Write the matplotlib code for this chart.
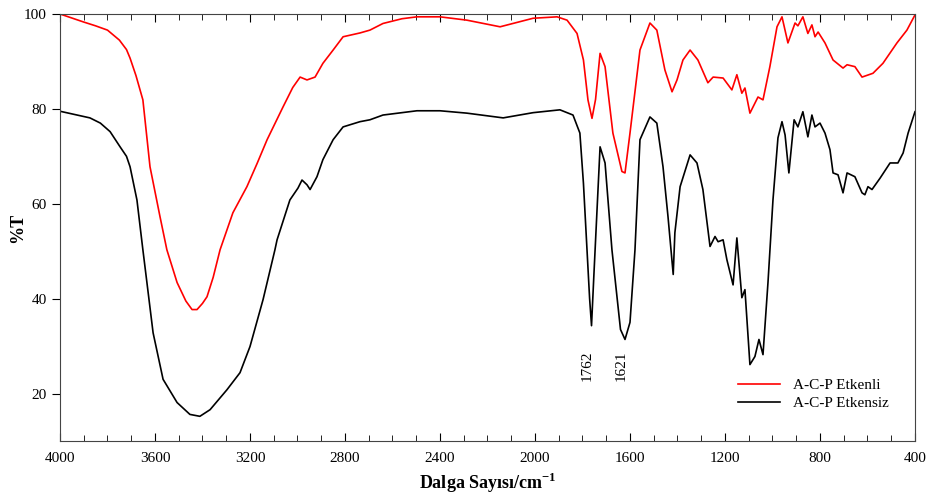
import matplotlib.pyplot as plt
import numpy as np

# wavenumber (cm-1) and %T
wn_red = [4000, 3900, 3850, 3800, 3750, 3720, 3705, 3680, 3651, 3621, 3579, 3550, 3507,
          3470, 3444, 3423, 3400, 3381, 3355, 3326, 3272, 3213, 3170, 3128, 3061, 3020,
          2989, 2960, 2926, 2893, 2850, 2808, 2737, 2695, 2640, 2560, 2497, 2400, 2287,
          2147, 2008, 1907, 1865, 1823, 1796, 1777, 1760, 1745, 1726, 1705, 1672, 1634,
          1621, 1600, 1558, 1516, 1487, 1453, 1423, 1402, 1377, 1347, 1314, 1272, 1250,
          1208, 1171, 1150, 1129, 1116, 1095, 1061, 1040, 1011, 981, 960, 935, 905, 893,
          872, 851, 834, 821, 808, 779, 745, 703, 686, 653, 623, 577, 535, 476, 434, 400]
t_red = [100, 98.3, 97.5, 96.6, 94.5, 92.5, 90.7, 87.0, 81.9, 67.8, 57.3, 50.3, 43.4,
         39.5, 37.7, 37.7, 39.0, 40.4, 44.5, 50.3, 58.1, 63.6, 68.5, 73.5, 80.4, 84.5,
         86.7, 86.1, 86.7, 89.6, 92.4, 95.2, 96.0, 96.6, 98.0, 99.0, 99.4, 99.4, 98.7,
         97.3, 99.1, 99.4, 98.7, 95.9, 90.3, 81.9, 78.0, 82.0, 91.7, 88.9, 74.9, 66.8,
         66.5, 74.9, 92.4, 98.1, 96.6, 88.2, 83.6, 86.1, 90.3, 92.4, 90.3, 85.5, 86.7,
         86.5, 84.0, 87.2, 83.3, 84.4, 79.1, 82.5, 81.9, 88.9, 97.3, 99.4, 93.9, 98.1,
         97.5, 99.4, 95.9, 97.7, 95.2, 96.2, 93.9, 90.3, 88.6, 89.3, 88.9, 86.7, 87.5,
         89.6, 93.9, 96.6, 99.8]

wn_blk = [4000, 3874, 3830, 3789, 3747, 3720, 3705, 3676, 3651, 3634, 3608, 3566, 3507,
          3453, 3411, 3368, 3297, 3242, 3200, 3145, 3095, 3086, 3032, 2998, 2981, 2960,
          2947, 2918, 2893, 2850, 2808, 2737, 2695, 2640, 2497, 2400, 2287, 2134, 2008,
          1895, 1840, 1811, 1796, 1781, 1770, 1762, 1752, 1726, 1705, 1676, 1640, 1621,
          1600, 1579, 1558, 1516, 1487, 1461, 1440, 1418, 1411, 1389, 1347, 1318, 1293,
          1263, 1242, 1229, 1208, 1192, 1166, 1150, 1129, 1116, 1095, 1074, 1057, 1040,
          1019, 998, 977, 960, 947, 931, 909, 893, 872, 851, 834, 821, 800, 779, 758,
          745, 724, 703, 686, 653, 623, 611, 598, 581, 547, 505, 472, 450, 429, 400]
t_blk = [79.5, 78.1, 77.0, 75.2, 72.0, 70.0, 67.8, 60.8, 50.3, 43.4, 32.8, 23.0, 18.1,
         15.6, 15.2, 16.6, 20.8, 24.4, 29.9, 39.8, 50.3, 52.4, 60.8, 63.3, 65.0, 64.0,
         63.0, 65.7, 69.3, 73.5, 76.2, 77.3, 77.7, 78.7, 79.6, 79.6, 79.1, 78.1, 79.2,
         79.8, 78.7, 74.9, 64.3, 50.3, 40.0, 34.3, 45.0, 72.0, 68.6, 50.3, 33.5, 31.4,
         35.0, 50.3, 73.5, 78.3, 77.0, 67.8, 57.3, 45.1, 53.9, 63.6, 70.3, 68.6, 63.0,
         51.0, 53.1, 52.0, 52.4, 48.2, 42.9, 52.8, 40.2, 41.9, 26.1, 27.8, 31.4, 28.2,
         43.4, 60.8, 73.9, 77.3, 74.5, 66.5, 77.7, 76.2, 79.4, 74.1, 78.7, 76.2, 77.0,
         74.9, 71.4, 66.5, 66.1, 62.3, 66.5, 65.7, 62.3, 61.9, 63.6, 63.0, 65.4, 68.6,
         68.6, 70.7, 74.9, 79.4]

peak_pos = [1762, 1621]
peak_text = ['1762', '1621']

plt.rcParams['font.family'] = ['Liberation Serif', 'DejaVu Serif']
plt.rcParams['mathtext.fontset'] = 'custom'
plt.rcParams['mathtext.rm'] = 'Liberation Serif'
plt.rcParams['mathtext.bf'] = 'Liberation Serif:bold'

fig = plt.figure(figsize=(9.33, 5.03), dpi=100)
ax = fig.add_axes([0.0643, 0.1233, 0.9164, 0.8489])

ax.plot(wn_red, t_red, color='red', lw=1.2, label='A-C-P Etkenli')
ax.plot(wn_blk, t_blk, color='black', lw=1.2, label='A-C-P Etkensiz')

# peak labels
for p, s in zip(peak_pos, peak_text):
    ax.text(p + 18, 25.8, s, rotation=90, ha='center', va='center', fontsize=11)

ax.set_xlim(4000, 400)
ax.set_ylim(10, 100)
ax.set_xticks(np.arange(4000, 399, -400))
ax.set_xticks(np.arange(4000, 399, -100), minor=True)
ax.set_yticks([20, 40, 60, 80, 100])
ax.tick_params(axis='x', which='both', direction='in', top=True, labelsize=11, pad=8)
ax.tick_params(axis='x', which='major', length=6)
ax.tick_params(axis='x', which='minor', length=4)
ax.tick_params(axis='y', direction='out', length=6, labelsize=11)
for sp in ax.spines.values():
    sp.set_color('#444444')

ax.set_xlabel(r'Dalga Sayısı/cm$^{\mathbf{-1}}$', fontsize=13, fontweight='bold', labelpad=4)
ax.set_ylabel('%T', fontsize=13, fontweight='bold')
ax.yaxis.set_label_coords(-0.04, 0.5)

ax.legend(loc='lower right', bbox_to_anchor=(0.985, 0.04), frameon=False, fontsize=11,
          handlelength=2.8, labelspacing=0.3)

fig.savefig('out.png', dpi=100)
